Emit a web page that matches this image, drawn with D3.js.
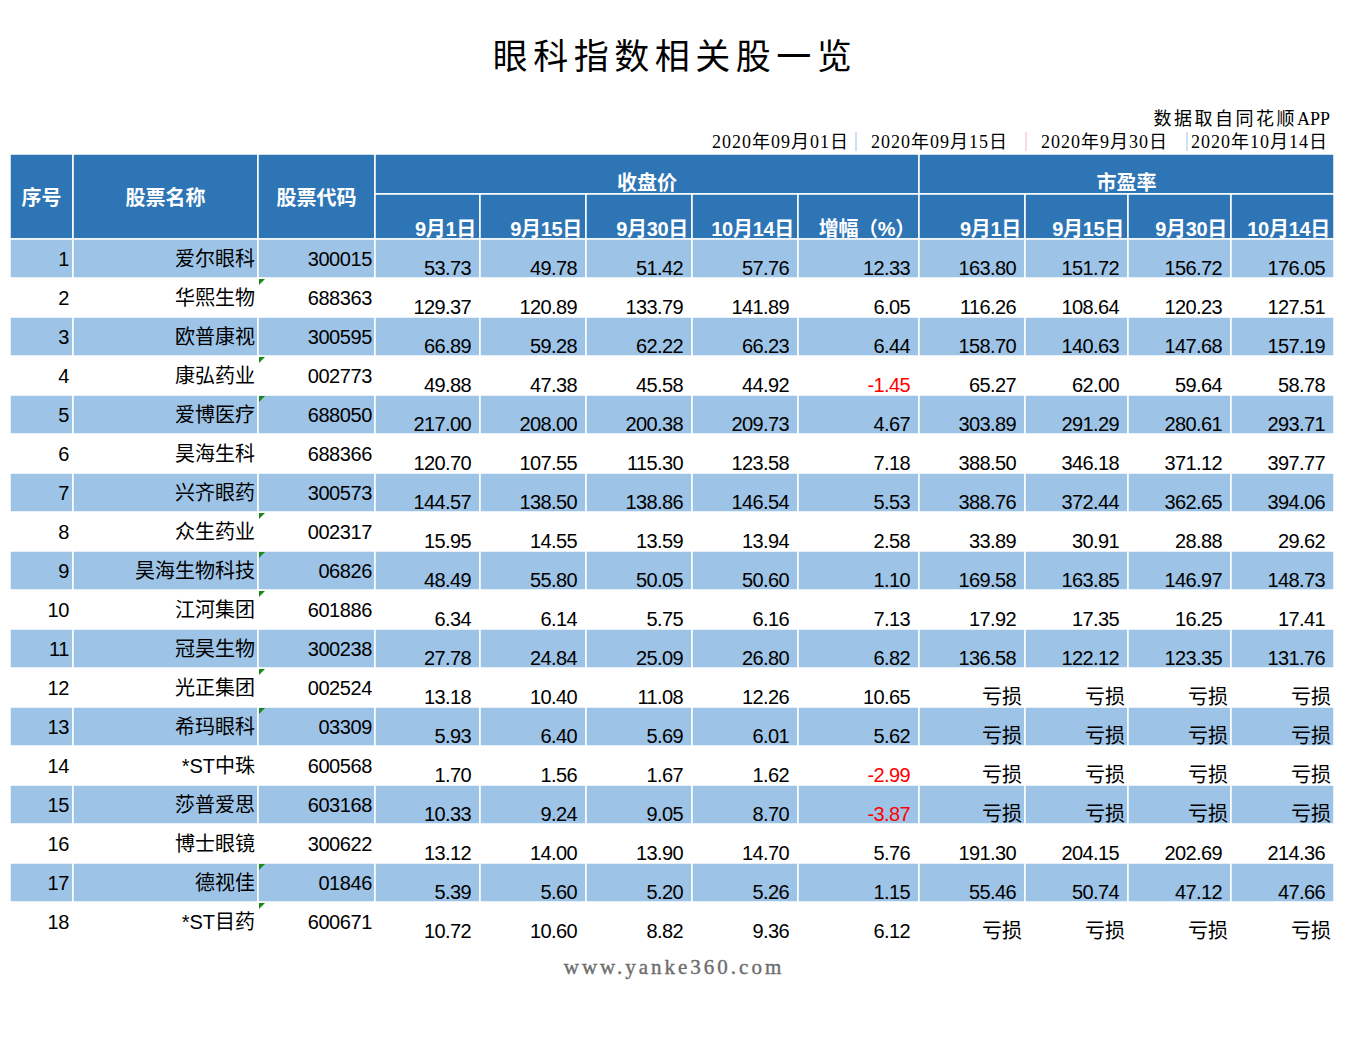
<!DOCTYPE html>
<html>
<head>
<meta charset="utf-8">
<script src="https://cdn.jsdelivr.net/npm/d3@7"></script>
<style>
  body { margin: 0; background: #fff; }
  svg { display: block; }
</style>
</head>
<body>
<div id="table"></div>
<script>
// data
var names = ["爱尔眼科", "华熙生物", "欧普康视", "康弘药业", "爱博医疗", "昊海生科", "兴齐眼药",
  "众生药业", "昊海生物科技", "江河集团", "冠昊生物", "光正集团", "希玛眼科", "*ST中珠",
  "莎普爱思", "博士眼镜", "德视佳", "*ST目药"];
var codes = ["300015", "688363", "300595", "002773", "688050", "688366", "300573", "002317",
  "06826", "601886", "300238", "002524", "03309", "600568", "603168", "300622", "01846", "600671"];
// rows whose code cell shows the green "text" marker
var textFlags = [0, 1, 0, 1, 1, 0, 0, 1, 1, 1, 0, 1, 1, 0, 0, 0, 1, 1];

var close0901 = [53.73, 129.37, 66.89, 49.88, 217.00, 120.70, 144.57, 15.95, 48.49, 6.34, 27.78, 13.18, 5.93, 1.70, 10.33, 13.12, 5.39, 10.72];
var close0915 = [49.78, 120.89, 59.28, 47.38, 208.00, 107.55, 138.50, 14.55, 55.80, 6.14, 24.84, 10.40, 6.40, 1.56, 9.24, 14.00, 5.60, 10.60];
var close0930 = [51.42, 133.79, 62.22, 45.58, 200.38, 115.30, 138.86, 13.59, 50.05, 5.75, 25.09, 11.08, 5.69, 1.67, 9.05, 13.90, 5.20, 8.82];
var close1014 = [57.76, 141.89, 66.23, 44.92, 209.73, 123.58, 146.54, 13.94, 50.60, 6.16, 26.80, 12.26, 6.01, 1.62, 8.70, 14.70, 5.26, 9.36];
var changePct = [12.33, 6.05, 6.44, -1.45, 4.67, 7.18, 5.53, 2.58, 1.10, 7.13, 6.82, 10.65, 5.62, -2.99, -3.87, 5.76, 1.15, 6.12];

// null = 亏损
var pe0901 = [163.80, 116.26, 158.70, 65.27, 303.89, 388.50, 388.76, 33.89, 169.58, 17.92, 136.58, null, null, null, null, 191.30, 55.46, null];
var pe0915 = [151.72, 108.64, 140.63, 62.00, 291.29, 346.18, 372.44, 30.91, 163.85, 17.35, 122.12, null, null, null, null, 204.15, 50.74, null];
var pe0930 = [156.72, 120.23, 147.68, 59.64, 280.61, 371.12, 362.65, 28.88, 146.97, 16.25, 123.35, null, null, null, null, 202.69, 47.12, null];
var pe1014 = [176.05, 127.51, 157.19, 58.78, 293.71, 397.77, 394.06, 29.62, 148.73, 17.41, 131.76, null, null, null, null, 214.36, 47.66, null];

var subHeaders = ["9月1日", "9月15日", "9月30日", "10月14日", "增幅（%）", "9月1日", "9月15日", "9月30日", "10月14日"];
var dateLabels = ["2020年09月01日", "2020年09月15日", "2020年9月30日", "2020年10月14日"];

var title = "眼科指数相关股一览";
var source = "数据取自同花顺";
var sourceApp = "APP";
var footer = "www.yanke360.com";

// layout
var W = 1346, H = 1045;
var colEdges = [10, 73, 258, 375, 480, 586, 692, 798, 919, 1025, 1128, 1231, 1334];
var headTop = 154, headMid = 194, headBottom = 239, tableBottom = 941;
var headBlue = "#2e75b6", rowBlue = "#9dc3e6";
var dataFont = "'Liberation Sans', 'Noto Sans CJK SC', sans-serif";
var serifFont = "'Liberation Serif', 'Noto Sans CJK SC', serif";

var rows = d3.range(names.length);
var y = d3.scaleBand().domain(rows).range([headBottom, tableBottom]);

var svg = d3.select("#table").append("svg")
  .attr("width", W)
  .attr("height", H);

// title
svg.append("text")
  .attr("x", W / 2 + 2)
  .attr("y", 69)
  .attr("text-anchor", "middle")
  .style("font-family", "'Noto Sans CJK SC', sans-serif")
  .style("font-size", "35px")
  .style("letter-spacing", "5.5px")
  .style("fill", "#000")
  .text(title);

// source line and dates
var src = svg.append("text")
  .attr("x", 1330)
  .attr("y", 125)
  .attr("text-anchor", "end")
  .style("font-family", serifFont)
  .style("font-size", "18px")
  .style("fill", "#000");
src.append("tspan").style("letter-spacing", "2.5px").text(source);
src.append("tspan").text(sourceApp);

var dateX = [712, 871, 1041, 1191];
svg.selectAll(".date")
  .data(dateLabels)
  .enter().append("text")
    .attr("class", "date")
    .attr("x", function(d, i) { return dateX[i]; })
    .attr("y", 148)
    .style("font-family", serifFont)
    .style("font-size", "18px")
    .style("letter-spacing", "1px")
    .style("fill", "#000")
    .text(function(d) { return d; });

var sepX = [856, 1026, 1187];
var sepColor = ["#9dc3e6", "#f4b6c2", "#9dc3e6"];
svg.selectAll(".sep")
  .data(sepX)
  .enter().append("line")
    .attr("x1", function(d) { return d; })
    .attr("x2", function(d) { return d; })
    .attr("y1", 132)
    .attr("y2", 151)
    .style("stroke", function(d, i) { return sepColor[i]; })
    .style("stroke-width", 1);

// header cells
var headCells = [
  {c0: 0, c1: 1, y0: headTop, y1: headBottom, t: "序号", anchor: "middle", by: 205},
  {c0: 1, c1: 2, y0: headTop, y1: headBottom, t: "股票名称", anchor: "middle", by: 205},
  {c0: 2, c1: 3, y0: headTop, y1: headBottom, t: "股票代码", anchor: "middle", by: 205},
  {c0: 3, c1: 8, y0: headTop, y1: headMid, t: "收盘价", anchor: "middle", by: 190},
  {c0: 8, c1: 12, y0: headTop, y1: headMid, t: "市盈率", anchor: "middle", by: 190}
];
subHeaders.forEach(function(s, i) {
  headCells.push({c0: i + 3, c1: i + 4, y0: headMid, y1: headBottom, t: s, anchor: "end", by: 236});
});

var head = svg.append("g").attr("class", "head");
head.selectAll("rect")
  .data(headCells)
  .enter().append("rect")
    .attr("x", function(d) { return colEdges[d.c0]; })
    .attr("y", function(d) { return d.y0; })
    .attr("width", function(d) { return colEdges[d.c1] - colEdges[d.c0]; })
    .attr("height", function(d) { return d.y1 - d.y0; })
    .style("fill", headBlue)
    .style("stroke", "#fff")
    .style("stroke-width", 1.5);

head.selectAll("text")
  .data(headCells)
  .enter().append("text")
    .attr("x", function(d) {
      return d.anchor === "middle" ? (colEdges[d.c0] + colEdges[d.c1]) / 2 : colEdges[d.c1] - 4;
    })
    .attr("y", function(d) { return d.by; })
    .attr("text-anchor", function(d) { return d.anchor; })
    .style("font-family", dataFont)
    .style("font-size", "20px")
    .style("font-weight", "bold")
    .style("letter-spacing", function(d) { return d.anchor === "end" ? "-0.3px" : "0px"; })
    .style("fill", "#fff")
    .text(function(d) { return d.t; });

// body rows
function fmt(v) { return v.toFixed(2); }
var body = svg.append("g").attr("class", "body");

var rowG = body.selectAll(".row")
  .data(rows)
  .enter().append("g")
    .attr("class", "row")
    .attr("transform", function(i) { return "translate(0," + y(i) + ")"; });

// blue band cells on odd rows
rowG.filter(function(i) { return i % 2 === 0; })
  .selectAll("rect")
  .data(d3.range(colEdges.length - 1))
  .enter().append("rect")
    .attr("x", function(c) { return colEdges[c]; })
    .attr("y", 0)
    .attr("width", function(c) { return colEdges[c + 1] - colEdges[c]; })
    .attr("height", y.bandwidth())
    .style("fill", rowBlue)
    .style("stroke", "#fff")
    .style("stroke-width", 1.5);

function cellsFor(i) {
  var out = [
    {c: 0, t: String(i + 1), pad: 4, by: 27, ls: -0.4},
    {c: 1, t: names[i], pad: 3, by: 27, ls: 0},
    {c: 2, t: codes[i], pad: 3, by: 27, ls: -0.4}
  ];
  var nums = [close0901[i], close0915[i], close0930[i], close1014[i], changePct[i]];
  nums.forEach(function(v, k) {
    out.push({c: k + 3, t: fmt(v), pad: 9, by: 36, ls: -0.6, red: v < 0});
  });
  [pe0901[i], pe0915[i], pe0930[i], pe1014[i]].forEach(function(v, k) {
    if (v === null) out.push({c: k + 8, t: "亏损", pad: 3, by: 36, ls: 0});
    else out.push({c: k + 8, t: fmt(v), pad: 9, by: 36, ls: -0.6});
  });
  return out;
}

rowG.selectAll("text")
  .data(function(i) { return cellsFor(i); })
  .enter().append("text")
    .attr("x", function(d) { return colEdges[d.c + 1] - d.pad; })
    .attr("y", function(d) { return d.by; })
    .attr("text-anchor", "end")
    .style("font-family", dataFont)
    .style("font-size", "20px")
    .style("letter-spacing", function(d) { return d.ls + "px"; })
    .style("fill", function(d) { return d.red ? "#ff0000" : "#000"; })
    .text(function(d) { return d.t; });

// green markers on codes stored as text
rowG.filter(function(i) { return textFlags[i] === 1; })
  .append("path")
    .attr("d", function() {
      var x0 = colEdges[2] + 1;
      return "M" + x0 + ",1L" + (x0 + 6) + ",1L" + x0 + ",7Z";
    })
    .style("fill", "#1a8a1a");

// footer
svg.append("text")
  .attr("x", W / 2 + 1)
  .attr("y", 974)
  .attr("text-anchor", "middle")
  .style("font-family", "'Liberation Serif', serif")
  .style("font-size", "21px")
  .style("letter-spacing", "3px")
  .style("fill", "#6e6e6e")
  .style("stroke", "#6e6e6e")
  .style("stroke-width", 0.4)
  .text(footer);
</script>
</body>
</html>
